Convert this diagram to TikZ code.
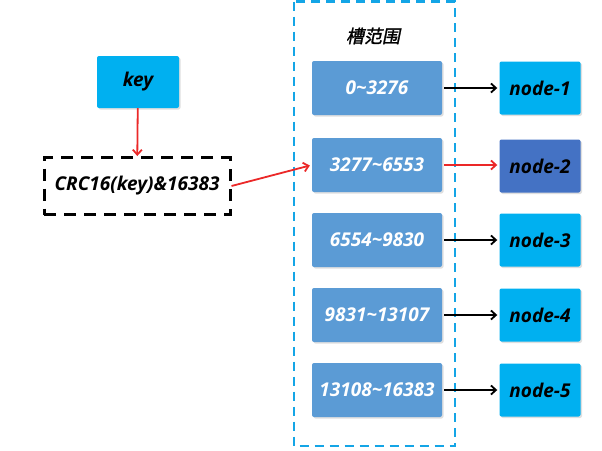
\documentclass[tikz,border=0pt]{standalone}
\usepackage{fontspec}
\setmainfont{Open Sans}
\newfontfamily\cjkfont[FakeSlant=0.2, FakeBold=1.5]{Noto Sans CJK SC}
\usetikzlibrary{arrows.meta,shadows}

\definecolor{slotblue}{RGB}{91,155,213}
\definecolor{nodecyan}{RGB}{0,176,240}
\definecolor{nodedark}{RGB}{68,114,196}
\definecolor{framecyan}{RGB}{20,165,230}
\definecolor{arrowred}{RGB}{235,40,40}

\begin{document}
\begin{tikzpicture}[x=1pt, y=-1pt,
        font=\fontsize{19}{22}\selectfont\bfseries\itshape,
        box/.style={rounded corners=2pt, inner sep=0pt,
                    drop shadow={opacity=0.25, shadow xshift=1.5pt, shadow yshift=-1.5pt}},
        rangebox/.style={box, fill=slotblue, text=white, minimum width=130pt, minimum height=54pt},
        serverbox/.style={box, fill=nodecyan, text=black, minimum width=81pt, minimum height=53pt},
        hashbox/.style={draw=black, line width=3pt, dash pattern=on 12pt off 8pt, minimum width=186pt, minimum height=57pt},
        redarrow/.style={draw=arrowred, line width=1.8pt, -{Straight Barb[length=5pt,width=9pt]}},
        blackarrow/.style={draw=black, line width=1.8pt, -{Straight Barb[length=5pt,width=9pt]}, shorten <=2pt, shorten >=2pt}]
        \useasboundingbox (0,0) rectangle (602,450);
        % slot range frame
        \draw[framecyan, line width=2.5pt, dash pattern=on 9pt off 6pt] (294,1.5) rectangle (455,446);
        \node[font=\fontsize{18}{20}\selectfont\cjkfont] (title) at (373,36) {槽范围};
        % key and hash
        \node[serverbox, minimum width=82pt, minimum height=52pt] (key) at (138,82) {key};
        \node[hashbox] (crc) at (137,186) {CRC16(key)\&16383};
        % slot ranges
        \node[rangebox] (r1) at (377,88) {0\textasciitilde3276};
        \node[rangebox] (r2) at (377,165) {3277\textasciitilde6553};
        \node[rangebox] (r3) at (377,240) {6554\textasciitilde9830};
        \node[rangebox] (r4) at (377,315) {9831\textasciitilde13107};
        \node[rangebox] (r5) at (377,390) {13108\textasciitilde16383};
        % nodes
        \node[serverbox] (n1) at (540,88) {node-1};
        \node[serverbox, fill=nodedark] (n2) at (540,166) {node-2};
        \node[serverbox] (n3) at (540,240) {node-3};
        \node[serverbox] (n4) at (540,315) {node-4};
        \node[serverbox] (n5) at (540,390) {node-5};
        % arrows
        \draw[redarrow] (key) -- (crc);
        \draw[redarrow, shorten >=2pt] (crc.east) -- (r2.west);
        \draw[redarrow, shorten <=2pt, shorten >=2pt] (r2.east) -- (r2.east -| n2.west);
        \draw[blackarrow] (r1) -- (n1);
        \draw[blackarrow] (r3) -- (n3);
        \draw[blackarrow] (r4) -- (n4);
        \draw[blackarrow] (r5) -- (n5);
\end{tikzpicture}
\end{document}
